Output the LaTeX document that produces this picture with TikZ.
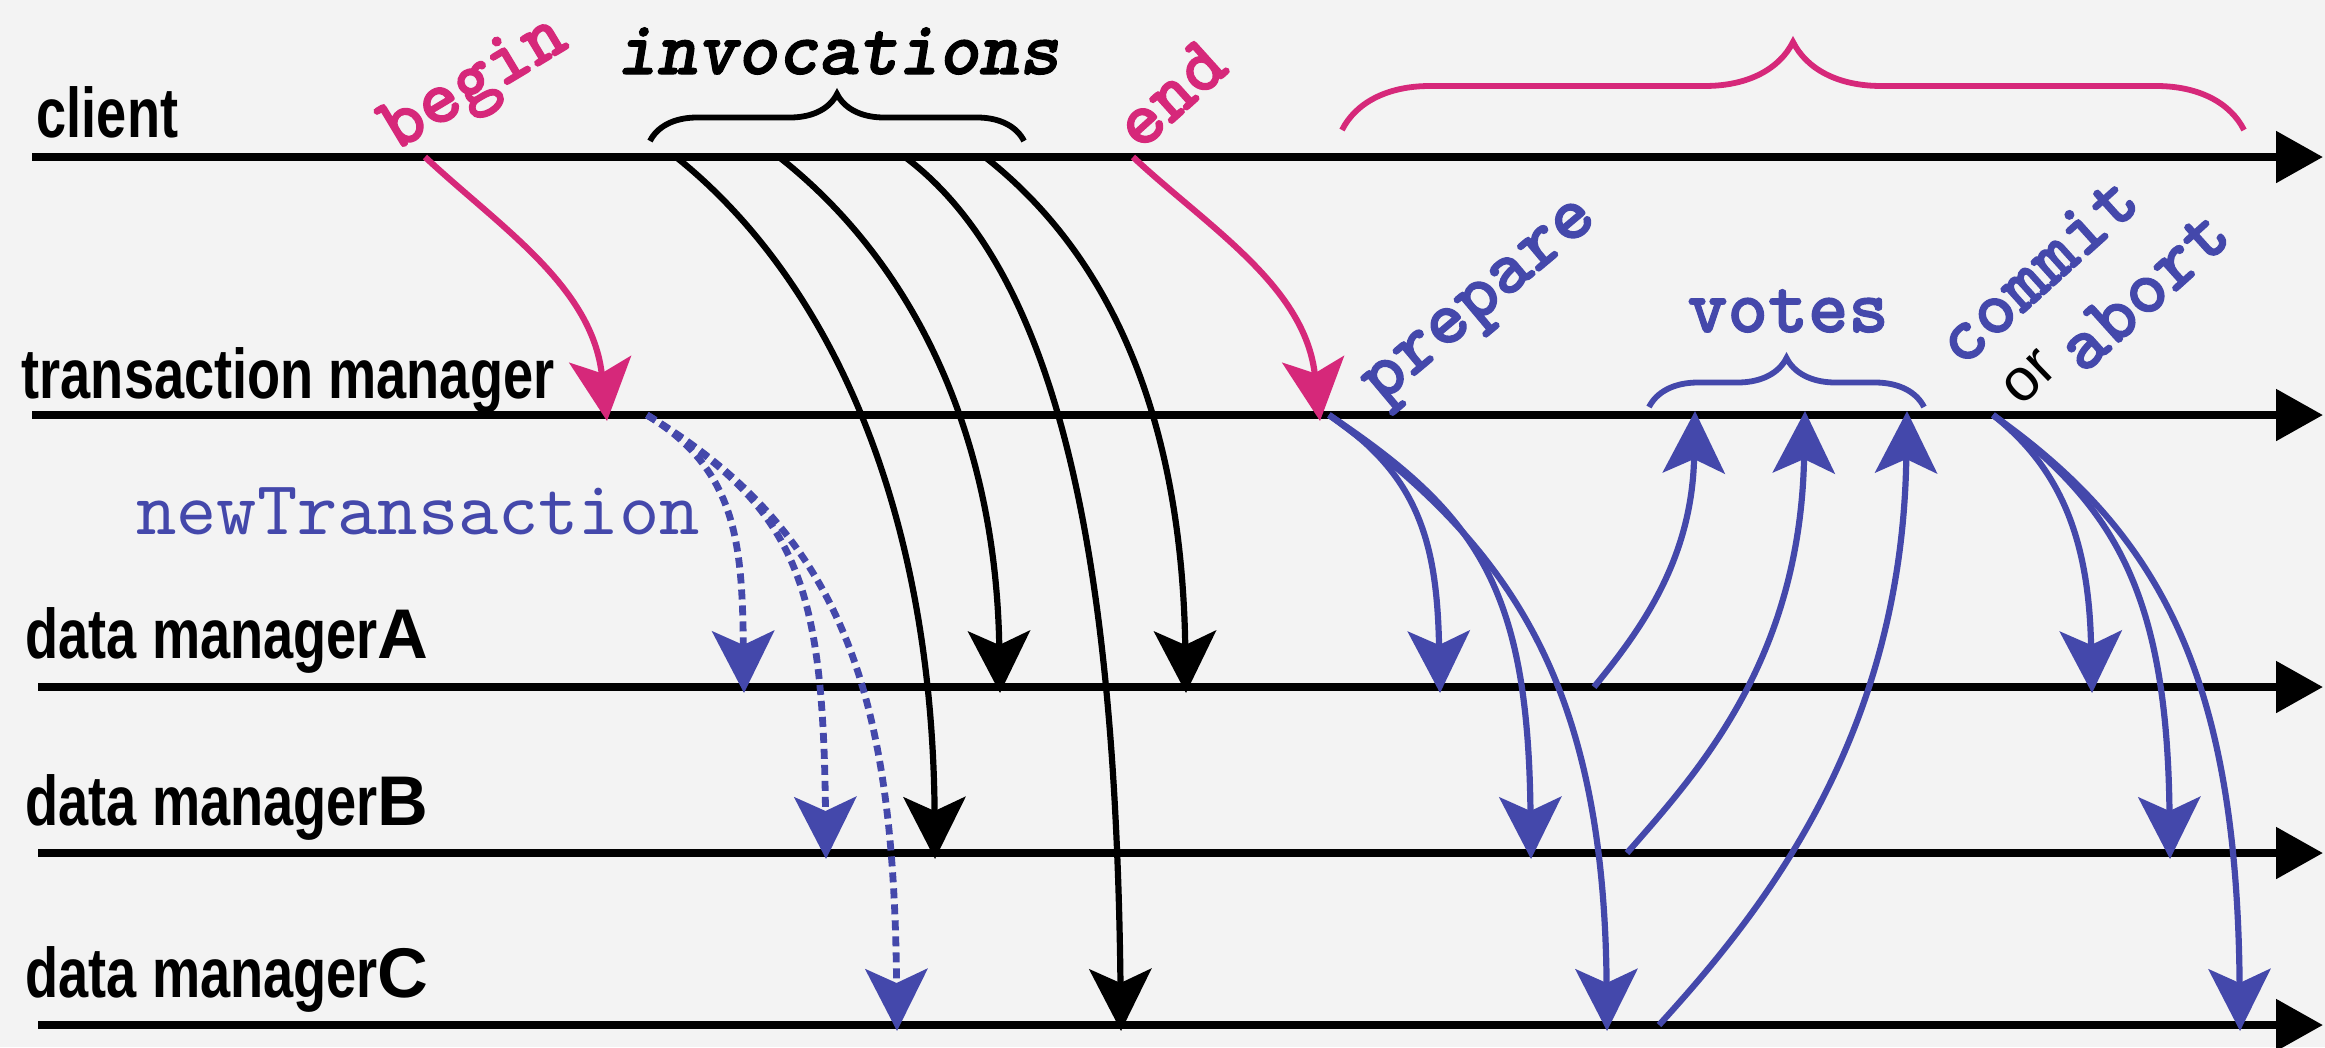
\documentclass[tikz,border=0pt]{standalone}
\usepackage{fontspec}
\usetikzlibrary{arrows.meta,decorations.pathreplacing}

\newfontfamily\lanefont[FakeStretch=0.77]{Liberation Sans}
\newfontfamily\letterfont{Liberation Sans}
\newfontfamily\callfont[FakeBold=1.5]{lmmonolt10-bold.otf}
\newfontfamily\callitfont[FakeBold=1.5]{lmmonolt10-boldoblique.otf}
\newfontfamily\plainmono{lmmono10-regular.otf}

\definecolor{paper}{RGB}{243,243,243}
\definecolor{callpink}{RGB}{214,40,122}
\definecolor{voteblue}{RGB}{68,72,171}

\begin{document}
\begin{tikzpicture}[x=0.01cm, y=-0.01cm,
  lifeline/.style={line width=0.085cm, -{Triangle[length=0.47cm, width=0.5cm]}},
  call/.style={line width=0.062cm, -{Stealth[length=0.62cm, width=0.62cm, inset=0.14cm]}},
  newtx/.style={call, voteblue, line width=0.068cm, dash pattern=on 0.1cm off 0.06cm},
  group/.style={line width=0.058cm, decorate, decoration={brace, amplitude=#1}},
  lane/.style={anchor=base west, inner sep=0, font=\lanefont\bfseries\fontsize{20}{22}\selectfont},
  op/.style={inner sep=0, font=\callfont\fontsize{22}{24}\selectfont},
  tag/.style={anchor=base, inner sep=0, font=\callfont\fontsize{21.8}{24}\selectfont}]
\fill[paper] (0,0) rectangle (2325,1047);
\useasboundingbox (0,0) rectangle (2325,1047);

% Lifelines
\coordinate (cl-w) at (32,157);   \coordinate (cl-e) at (2323,157);
\coordinate (tm-w) at (32,415);   \coordinate (tm-e) at (2323,415);
\coordinate (dmA-w) at (38,687);  \coordinate (dmA-e) at (2323,687);
\coordinate (dmB-w) at (38,853);  \coordinate (dmB-e) at (2323,853);
\coordinate (dmC-w) at (38,1025); \coordinate (dmC-e) at (2323,1025);
\draw[lifeline] (cl-w) -- (cl-e);
\draw[lifeline] (tm-w) -- (tm-e);
\draw[lifeline] (dmA-w) -- (dmA-e);
\draw[lifeline] (dmB-w) -- (dmB-e);
\draw[lifeline] (dmC-w) -- (dmC-e);

\node[lane] (client) at (36,137) {client};
\node[lane] (tm) at (21,398) {transaction manager};
\node[lane] (dmA) at (25,658) {data manager{\letterfont A}};
\node[lane] (dmB) at (25,825) {data manager{\letterfont B}};
\node[lane] (dmC) at (25,997) {data manager{\letterfont C}};

% Call end points
\coordinate (bg-s) at (425,157);  \coordinate (bg-t) at (607,421);
\coordinate (en-s) at (1133,157); \coordinate (en-t) at (1320,421);
\coordinate (iv1-s) at (676,157); \coordinate (iv1-t) at (935,859);
\coordinate (iv2-s) at (779,157); \coordinate (iv2-t) at (1000,693);
\coordinate (iv3-s) at (905,157); \coordinate (iv3-t) at (1121,1031);
\coordinate (iv4-s) at (985,157); \coordinate (iv4-t) at (1186,693);
\coordinate (nt-s) at (647,415);
\coordinate (ntA) at (744,693); \coordinate (ntB) at (826,859); \coordinate (ntC) at (897,1031);
\coordinate (pr-s) at (1329,415);
\coordinate (prA) at (1440,693); \coordinate (prB) at (1531,859); \coordinate (prC) at (1607,1031);
\coordinate (vtA) at (1594,687); \coordinate (vt1) at (1695,411);
\coordinate (vtB) at (1627,853); \coordinate (vt2) at (1805,411);
\coordinate (vtC) at (1659,1025); \coordinate (vt3) at (1907,411);
\coordinate (cm-s) at (1993,415);
\coordinate (cmA) at (2092,693); \coordinate (cmB) at (2170,859); \coordinate (cmC) at (2240,1031);

% begin / end
\draw[call, callpink] (bg-s) .. controls +(75,70) and +(-15,-135) .. (bg-t);
\draw[call, callpink] (en-s) .. controls +(75,70) and +(-15,-135) .. (en-t);

% invocations
\draw[call] (iv1-s) .. controls +(150,120) and +(-3,-358) .. (iv1-t);
\draw[call] (iv2-s) .. controls +(140,110) and +(-4,-250) .. (iv2-t);
\draw[call] (iv3-s) .. controls +(160,120) and +(-5,-450) .. (iv3-t);
\draw[call] (iv4-s) .. controls +(140,110) and +(-4,-250) .. (iv4-t);

% newTransaction
\draw[newtx] (nt-s) .. controls +(90,55) and +(-2,-150) .. (ntA);
\draw[newtx] (nt-s) .. controls +(150,95) and +(-3,-280) .. (ntB);
\draw[newtx] (nt-s) .. controls +(200,120) and +(-3,-330) .. (ntC);

% prepare
\draw[call, voteblue] (pr-s) .. controls +(90,60) and +(-3,-150) .. (prA);
\draw[call, voteblue] (pr-s) .. controls +(150,100) and +(-3,-270) .. (prB);
\draw[call, voteblue] (pr-s) .. controls +(180,130) and +(-3,-350) .. (prC);

% votes
\draw[call, voteblue] (vtA) .. controls +(45,-55) and +(-3,150) .. (vt1);
\draw[call, voteblue] (vtB) .. controls +(70,-80) and +(-5,250) .. (vt2);
\draw[call, voteblue] (vtC) .. controls +(100,-110) and +(-5,330) .. (vt3);

% commit or abort
\draw[call, voteblue] (cm-s) .. controls +(70,55) and +(-3,-150) .. (cmA);
\draw[call, voteblue] (cm-s) .. controls +(120,90) and +(-3,-270) .. (cmB);
\draw[call, voteblue] (cm-s) .. controls +(170,120) and +(-3,-350) .. (cmC);

% Braces
\draw[group=0.47cm] (650,141) -- (1024,141);
\draw[group=0.49cm, voteblue] (1649,407) -- (1924,407);
\draw[group=0.88cm, callpink] (1342,130) -- (2244,130);

% Labels
\node[tag, font=\callitfont\fontsize{21.8}{24}\selectfont] (inv-lbl) at (838,74) {invocations};
\node[tag, voteblue] (votes-lbl) at (1788,332) {votes};
\node[tag, voteblue, font=\plainmono\fontsize{21.8}{24}\selectfont] (newtx-lbl) at (418,534) {newTransaction};
\node[op, callpink, rotate=31] (begin-lbl) at (476,86) {begin};
\node[op, callpink, rotate=42] (end-lbl) at (1170,94) {end};
\node[op, voteblue, rotate=40] (prep-lbl) at (1484,306) {prepare};
\node[op, voteblue, rotate=42] (commit-lbl) at (2037,270) {commit};
\node[op, voteblue, rotate=42] (abort-lbl) at (2143,290) {abort};
\node[inner sep=0, rotate=44, font=\letterfont\fontsize{17}{19}\selectfont] (or-lbl) at (2030,378) {or};
\end{tikzpicture}
\end{document}
